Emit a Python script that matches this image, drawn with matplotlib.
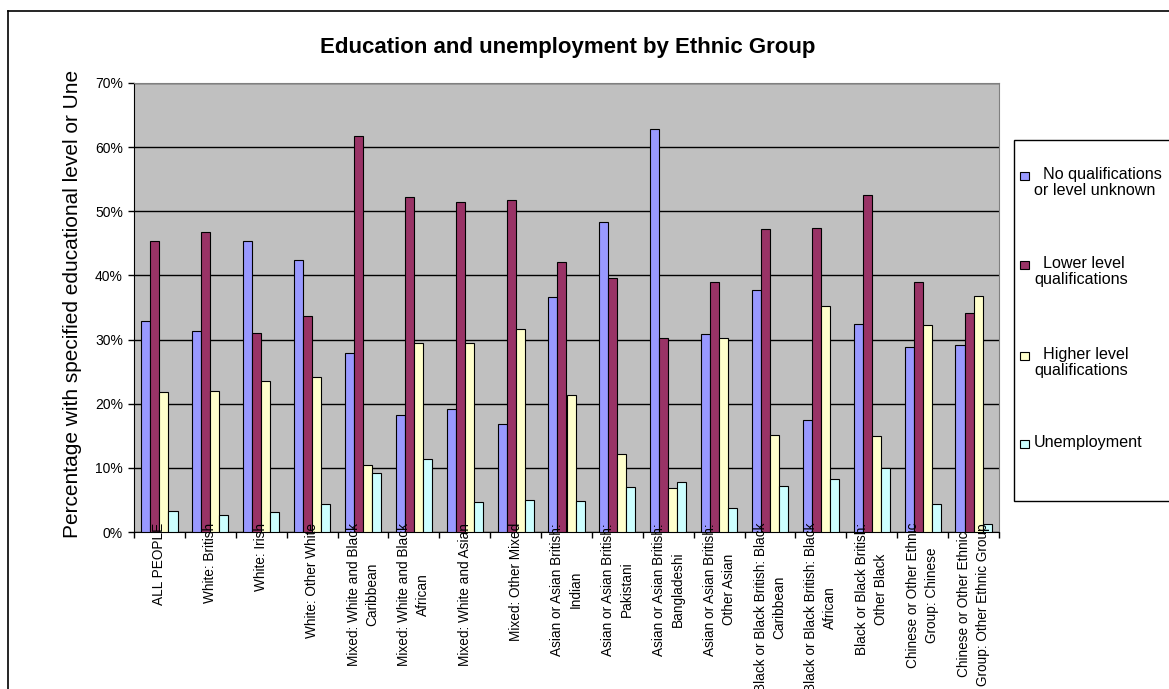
import matplotlib

matplotlib.use("Agg")
import matplotlib.pyplot as plt
import numpy as np
from matplotlib.lines import Line2D
from matplotlib.patches import Rectangle
from matplotlib.ticker import FixedLocator, PercentFormatter

plt.rcParams["font.family"] = ["Liberation Sans", "DejaVu Sans"]

categories = [
    "ALL PEOPLE", "White: British", "White: Irish", "White: Other White",
    "Mixed: White and Black\nCaribbean", "Mixed: White and Black\nAfrican",
    "Mixed: White and Asian", "Mixed: Other Mixed",
    "Asian or Asian British:\nIndian", "Asian or Asian British:\nPakistani",
    "Asian or Asian British:\nBangladeshi", "Asian or Asian British:\nOther Asian",
    "Black or Black British: Black\nCaribbean", "Black or Black British: Black\nAfrican",
    "Black or Black British:\nOther Black", "Chinese or Other Ethnic\nGroup: Chinese",
    "Chinese or Other Ethnic\nGroup: Other Ethnic Group",
]

series_names = [
    "  No qualifications\nor level unknown",
    "  Lower level\nqualifications",
    "  Higher level\nqualifications",
    "Unemployment",
]

no_qual = [32.9, 31.3, 45.4, 42.4, 27.9, 18.3, 19.1, 16.8, 36.6,
           48.4, 62.8, 30.9, 37.7, 17.5, 32.5, 28.9, 29.2]
lower_qual = [45.4, 46.8, 31.1, 33.6, 61.7, 52.3, 51.4, 51.8, 42.1,
              39.6, 30.2, 38.9, 47.2, 47.4, 52.5, 38.9, 34.1]
higher_qual = [21.8, 22.0, 23.5, 24.1, 10.5, 29.5, 29.5, 31.7, 21.4,
               12.1, 6.9, 30.3, 15.2, 35.2, 15.0, 32.2, 36.8]
unemployment = [3.3, 2.7, 3.1, 4.4, 9.2, 11.4, 4.7, 5.0, 4.8,
                7.0, 7.8, 3.7, 7.1, 8.2, 10.0, 4.4, 1.3]

colors = ["#9999FF", "#993366", "#FFFFCC", "#CCFFFF"]

W, H = 1169, 689
fig = plt.figure(figsize=(W / 100, H / 100), dpi=100)
ax = fig.add_axes([134 / W, 1 - 532 / H, (999 - 134) / W, (532 - 83) / H])
ax.set_facecolor("#C0C0C0")

x = np.arange(len(categories))
bw = 0.178
for i, (vals, c) in enumerate(zip([no_qual, lower_qual, higher_qual, unemployment], colors)):
    ax.bar(x + (i - 1.5) * bw, vals, width=bw, color=c, edgecolor="black",
           linewidth=0.8, zorder=3)

ax.set_xlim(-0.5, len(categories) - 0.5)
ax.set_ylim(0, 70)
ax.yaxis.set_major_locator(FixedLocator(np.arange(0, 71, 10)))
ax.yaxis.set_major_formatter(PercentFormatter(decimals=0))
ax.grid(axis="y", color="black", linewidth=1.0, zorder=1)
ax.set_axisbelow(True)

# labels sit on top of the bars like in Excel
ax.xaxis.set_zorder(4)
ax.set_xticks(x)
ax.set_xticklabels(categories, rotation=90, ha="center", va="top",
                   multialignment="center", fontsize=9.8, linespacing=1.44)
ax.set_xticks(np.arange(-0.5, len(categories), 1), minor=True)
ax.tick_params(axis="x", which="major", length=0, pad=-6.5)
ax.tick_params(axis="x", which="minor", length=4, direction="out", width=1)
ax.tick_params(axis="y", length=4, direction="out", labelsize=10, width=1, pad=4)

for s in ["top", "right"]:
    ax.spines[s].set_color("#808080")
for s in ["left", "bottom"]:
    ax.spines[s].set_color("black")

fig.text(73 / W, 1 - 304 / H, "Percentage with specified educational level or Une",
         rotation=90, ha="center", va="center", fontsize=15)
fig.text(568 / W, 1 - 47 / H, "Education and unemployment by Ethnic Group",
         ha="center", va="center", fontsize=16, fontweight="bold")

# legend box drawn by hand, Excel style
fig.patches.append(Rectangle((1014 / W, 1 - 501 / H), (1175 - 1014) / W, (501 - 140) / H,
                             transform=fig.transFigure, facecolor="white",
                             edgecolor="black", linewidth=1))
leg_y = [176, 265, 356, 444]
for name, c, yy in zip(series_names, colors, leg_y):
    fig.patches.append(Rectangle((1020 / W, 1 - (yy + 4) / H), 9 / W, 8 / H,
                                 transform=fig.transFigure, facecolor=c,
                                 edgecolor="black", linewidth=0.8))
    fig.text(1034 / W, 1 - (yy - 9) / H, name, ha="left", va="top",
             fontsize=11.6, linespacing=1.12)

# outer chart border (top and left visible)
fig.add_artist(Line2D([8 / W, 1], [1 - 11 / H, 1 - 11 / H], transform=fig.transFigure,
                      color="black", linewidth=1.2))
fig.add_artist(Line2D([8 / W, 8 / W], [0, 1 - 11 / H], transform=fig.transFigure,
                      color="black", linewidth=1.2))

fig.savefig("out.png", dpi=100)
